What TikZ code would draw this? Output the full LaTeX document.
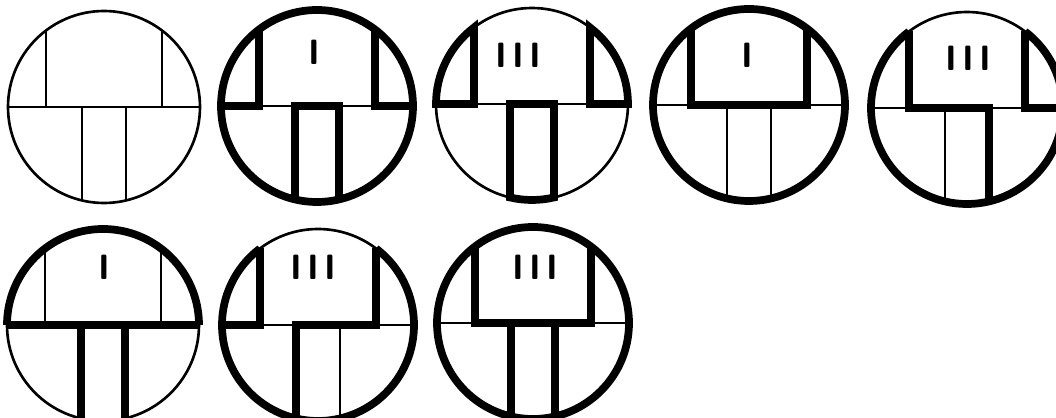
\documentclass[tikz,border=0pt]{standalone}
\usepackage{tikz}

\begin{document}
\begin{tikzpicture}[x=0.02cm,y=-0.02cm,
  thinline/.style={line width=1.5pt},
  thickline/.style={line width=4.4pt},
  numeral/.style={font=\sffamily\bfseries\fontsize{20}{20}\selectfont,inner sep=0pt}]
\clip (0,0) rectangle (1056,418);
\fill[white] (0,0) rectangle (1056,418);
\foreach \cx/\cy in {104/107,317/106,532/104,749/105,967/108,103/325,318/325,533/323}{
  \begin{scope}[shift={(\cx,\cy)}]
  \draw[thinline] (0,0) circle[radius=96];
  \draw[thinline] (-96,0) -- (96,0);
  \draw[thinline] (-58,-76.5) -- (-58,0) (58,-76.5) -- (58,0);
  \draw[thinline] (-22,0) -- (-22,93.4) (22,0) -- (22,93.4);
  \end{scope}
}
\begin{scope}[shift={(317,106)}]
\draw[thickline] (0,0) circle[radius=96];
\draw[thickline] (-96,0) -- (-58,0) -- (-58,-76.5);
\draw[thickline] (96,0) -- (58,0) -- (58,-76.5);
\draw[thickline] (-22,93.4) -- (-22,0) -- (22,0) -- (22,93.4);
\end{scope}
\node[numeral] (markB) at (314,52) {I};
\begin{scope}[shift={(532,104)}]
\draw[thickline] (180:96) arc[start angle=180,end angle=232.8,radius=96] -- (-58,0) -- cycle;
\draw[thickline] (0:96) arc[start angle=0,end angle=-52.8,radius=96] -- (58,0) -- cycle;
\draw[thickline] (-22,0) -- (22,0) -- (76.7:96) arc[start angle=76.7,end angle=103.3,radius=96] -- cycle;
\end{scope}
\node[numeral] (markC) at (518,55) {I\kern3pt I\kern3pt I};
\begin{scope}[shift={(749,105)}]
\draw[thickline] (0,0) circle[radius=96];
\draw[thickline] (-58,-76.5) -- (-58,0) -- (58,0) -- (58,-76.5);
\end{scope}
\node[numeral] (markD) at (747,55) {I};
\begin{scope}[shift={(967,108)}]
\draw[thickline] (-52.8:96) arc[start angle=-52.8,end angle=232.8,radius=96];
\draw[thickline] (-58,-76.5) -- (-58,0) -- (22,0) -- (22,93.4);
\draw[thickline] (58,-76.5) -- (58,0) -- (96,0);
\end{scope}
\node[numeral] (markE) at (968,58) {I\kern3pt I\kern3pt I};
\begin{scope}[shift={(103,325)}]
\draw[thickline] (180:96) arc[start angle=180,end angle=360,radius=96];
\draw[thickline] (-96,0) -- (96,0);
\draw[thickline] (-22,0) -- (-22,93.4) (22,0) -- (22,93.4);
\end{scope}
\node[numeral] (markF) at (104,267) {I};
\begin{scope}[shift={(318,325)}]
\draw[thickline] (-52.8:96) arc[start angle=-52.8,end angle=232.8,radius=96];
\draw[thickline] (-96,0) -- (-58,0) -- (-58,-76.5);
\draw[thickline] (-22,93.4) -- (-22,0) -- (58,0) -- (58,-76.5);
\end{scope}
\node[numeral] (markG) at (313,267) {I\kern3pt I\kern3pt I};
\begin{scope}[shift={(533,323)}]
\draw[thickline] (0,0) circle[radius=96];
\draw[thickline] (-58,-76.5) -- (-58,0) -- (58,0) -- (58,-76.5);
\draw[thickline] (-22,0) -- (-22,93.4) (22,0) -- (22,93.4);
\end{scope}
\node[numeral] (markH) at (535,267) {I\kern3pt I\kern3pt I};
\end{tikzpicture}
\end{document}
